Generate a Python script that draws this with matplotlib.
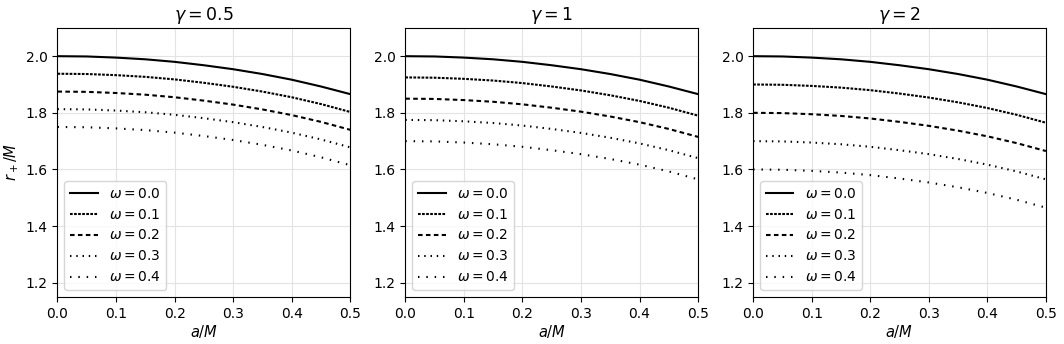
import numpy as np
import matplotlib
matplotlib.use("Agg")
import matplotlib.pyplot as plt

# a/M sample points
a_vals = [0.0, 0.05, 0.1, 0.15, 0.2, 0.25, 0.3, 0.35, 0.4, 0.45, 0.5]
omegas = [0.0, 0.1, 0.2, 0.3, 0.4]
gammas = ["0.5", "1", "2"]

# r_+/M, one list per omega
r_g05 = [
    [2.000, 1.999, 1.995, 1.989, 1.980, 1.968, 1.954, 1.937, 1.917, 1.893, 1.866],
    [1.938, 1.937, 1.933, 1.927, 1.918, 1.906, 1.892, 1.875, 1.855, 1.831, 1.803],
    [1.875, 1.874, 1.870, 1.864, 1.855, 1.843, 1.829, 1.812, 1.792, 1.768, 1.740],
    [1.813, 1.812, 1.808, 1.802, 1.793, 1.781, 1.767, 1.750, 1.730, 1.706, 1.678],
    [1.750, 1.749, 1.745, 1.739, 1.730, 1.718, 1.704, 1.687, 1.667, 1.643, 1.615],
]
r_g1 = [
    [2.000, 1.999, 1.995, 1.989, 1.980, 1.968, 1.954, 1.937, 1.917, 1.893, 1.866],
    [1.925, 1.924, 1.920, 1.914, 1.905, 1.893, 1.879, 1.862, 1.842, 1.818, 1.790],
    [1.850, 1.849, 1.845, 1.839, 1.830, 1.818, 1.804, 1.787, 1.767, 1.743, 1.715],
    [1.775, 1.774, 1.770, 1.764, 1.755, 1.743, 1.729, 1.712, 1.692, 1.668, 1.640],
    [1.700, 1.699, 1.695, 1.689, 1.680, 1.668, 1.654, 1.637, 1.617, 1.593, 1.565],
]
r_g2 = [
    [2.000, 1.999, 1.995, 1.989, 1.980, 1.968, 1.954, 1.937, 1.917, 1.893, 1.866],
    [1.900, 1.899, 1.895, 1.889, 1.880, 1.868, 1.854, 1.837, 1.817, 1.793, 1.765],
    [1.800, 1.799, 1.795, 1.789, 1.780, 1.768, 1.754, 1.737, 1.717, 1.693, 1.665],
    [1.700, 1.699, 1.695, 1.689, 1.680, 1.668, 1.654, 1.637, 1.617, 1.593, 1.565],
    [1.600, 1.599, 1.595, 1.589, 1.580, 1.568, 1.554, 1.537, 1.517, 1.493, 1.465],
]

styles = ["-", (0, (1.3, 0.65)), (0, (2.2, 1.6)), (0, (0.7, 2.3)), (0, (0.7, 3.3))]

fig, axes = plt.subplots(1, 3, figsize=(10.64, 3.44), dpi=100)
fig.subplots_adjust(left=0.054, right=0.983, top=0.919, bottom=0.137, wspace=0.188)

for ax, g, data in zip(axes, gammas, [r_g05, r_g1, r_g2]):
    for w, r, ls in zip(omegas, data, styles):
        ax.plot(a_vals, r, color="black", linestyle=ls, linewidth=1.5,
                label=r"$\omega = %.1f$" % w)
    ax.set_xlim(0, 0.5)
    ax.set_ylim(1.15, 2.1)
    ax.set_yticks([1.2, 1.4, 1.6, 1.8, 2.0])
    ax.set_xticks([0.0, 0.1, 0.2, 0.3, 0.4, 0.5])
    ax.grid(True, color="#e3e3e3", linewidth=0.8)
    ax.tick_params(labelsize=10)
    ax.set_title(r"$\gamma = %s$" % g, fontsize=12.5)
    ax.set_xlabel(r"$a/M$", fontsize=10.5, labelpad=2)
    ax.legend(loc="lower left", fontsize=10, handlelength=2.0)

axes[0].set_ylabel(r"$r_+/M$", fontsize=10.5, labelpad=3)

plt.savefig("out.png")
